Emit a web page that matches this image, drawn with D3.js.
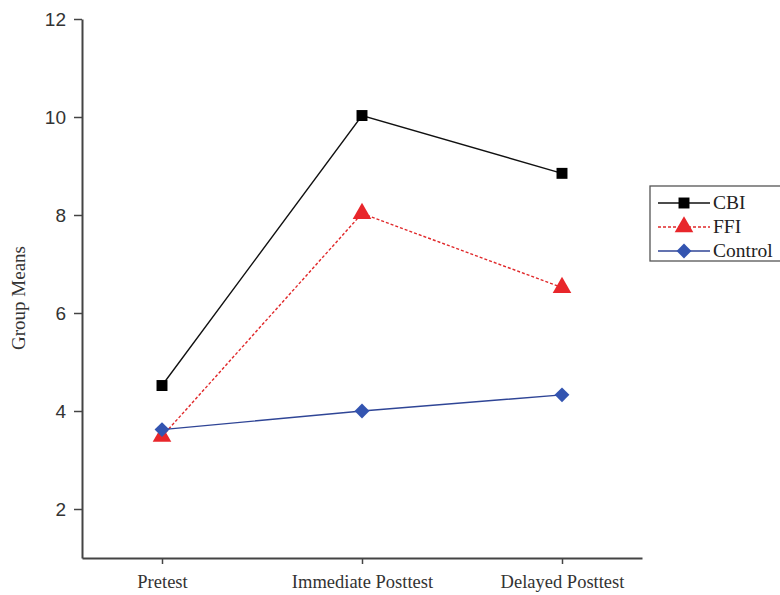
<!DOCTYPE html>
<html>
<head>
<meta charset="utf-8">
<script src="https://d3js.org/d3.v7.min.js"></script>
<style>
  body { margin: 0; background: #fff; }
</style>
</head>
<body>
<svg id="chart"></svg>
<script>
  // Data
  const phases = ["Pretest", "Immediate Posttest", "Delayed Posttest"];
  const cbi = [4.52, 10.03, 8.85];
  const ffi = [3.48, 8.03, 6.52];
  const control = [3.62, 4.0, 4.33];
  const yTicks = [2, 4, 6, 8, 10, 12];

  const width = 780, height = 595;
  const svg = d3.select("#chart").attr("width", width).attr("height", height);

  const x = d3.scalePoint().domain(phases).range([82, 642]).padding(0.4);
  const y = d3.scaleLinear().domain([1, 12]).range([558, 19]);

  const axisColor = "#444";

  // y axis
  const yAxis = svg.append("g")
    .attr("transform", "translate(82,0)")
    .call(d3.axisLeft(y).tickValues(yTicks).tickSize(8).tickSizeOuter(0));
  yAxis.select(".domain").attr("stroke", axisColor).attr("stroke-width", 2);
  yAxis.selectAll(".tick line").attr("stroke", axisColor).attr("stroke-width", 1.5);
  yAxis.selectAll(".tick text")
    .attr("font-family", "Liberation Sans, Arial, sans-serif")
    .attr("font-size", 19)
    .attr("fill", "#333")
    .attr("x", -16);

  // x axis
  const xAxis = svg.append("g")
    .attr("transform", "translate(0,558)")
    .call(d3.axisBottom(x).tickSize(6).tickSizeOuter(0));
  xAxis.select(".domain").attr("stroke", axisColor).attr("stroke-width", 2);
  xAxis.selectAll(".tick line").attr("stroke", axisColor).attr("stroke-width", 1.5);
  xAxis.selectAll(".tick text")
    .attr("font-family", "Liberation Serif, Times New Roman, serif")
    .attr("font-size", 18.5)
    .attr("fill", "#333")
    .attr("y", 17);

  // y axis title
  svg.append("text")
    .attr("transform", "translate(25,298) rotate(-90)")
    .attr("text-anchor", "middle")
    .attr("font-family", "Liberation Serif, Times New Roman, serif")
    .attr("font-size", 19)
    .attr("fill", "#333")
    .text("Group Means");

  const series = [
    { name: "CBI", values: cbi, color: "#111", dash: null, marker: "square", mfill: "#000" },
    { name: "FFI", values: ffi, color: "#e0282a", dash: "3,2", marker: "triangle", mfill: "#e8262b" },
    { name: "Control", values: control, color: "#2f4596", dash: null, marker: "diamond", mfill: "#3354b0" }
  ];

  const symbolFor = {
    square: d3.symbol().type(d3.symbolSquare).size(120),
    triangle: d3.symbol().type(d3.symbolTriangle).size(150),
    diamond: d3.symbol().type(d3.symbolSquare).size(110)
  };
  const rot = m => (m === "diamond" ? " rotate(45)" : "");

  const line = d3.line().x((d, i) => x(phases[i])).y(d => y(d));

  series.forEach(s => {
    svg.append("path")
      .datum(s.values)
      .attr("d", line)
      .attr("fill", "none")
      .attr("stroke", s.color)
      .attr("stroke-width", 1.4)
      .attr("stroke-dasharray", s.dash);
  });

  // markers drawn after lines
  series.forEach(s => {
    svg.selectAll(null)
      .data(s.values)
      .enter()
      .append("path")
      .attr("d", symbolFor[s.marker])
      .attr("transform", (d, i) => `translate(${x(phases[i])},${y(d)})${rot(s.marker)}`)
      .attr("fill", s.mfill);
  });

  // legend
  const legend = svg.append("g").attr("transform", "translate(650,186)");
  legend.append("rect")
    .attr("width", 150).attr("height", 75)
    .attr("fill", "#fff").attr("stroke", "#555").attr("stroke-width", 1.3);
  series.forEach((s, i) => {
    const gy = 17 + i * 24;
    legend.append("line")
      .attr("x1", 8).attr("x2", 60).attr("y1", gy).attr("y2", gy)
      .attr("stroke", s.color).attr("stroke-width", 1.4)
      .attr("stroke-dasharray", s.dash);
    legend.append("path")
      .attr("d", symbolFor[s.marker])
      .attr("transform", `translate(34,${gy})${rot(s.marker)}`)
      .attr("fill", s.mfill);
    legend.append("text")
      .attr("x", 63).attr("y", gy + 6)
      .attr("font-family", "Liberation Serif, Times New Roman, serif")
      .attr("font-size", 19.5)
      .attr("fill", "#222")
      .text(s.name);
  });
</script>
</body>
</html>
